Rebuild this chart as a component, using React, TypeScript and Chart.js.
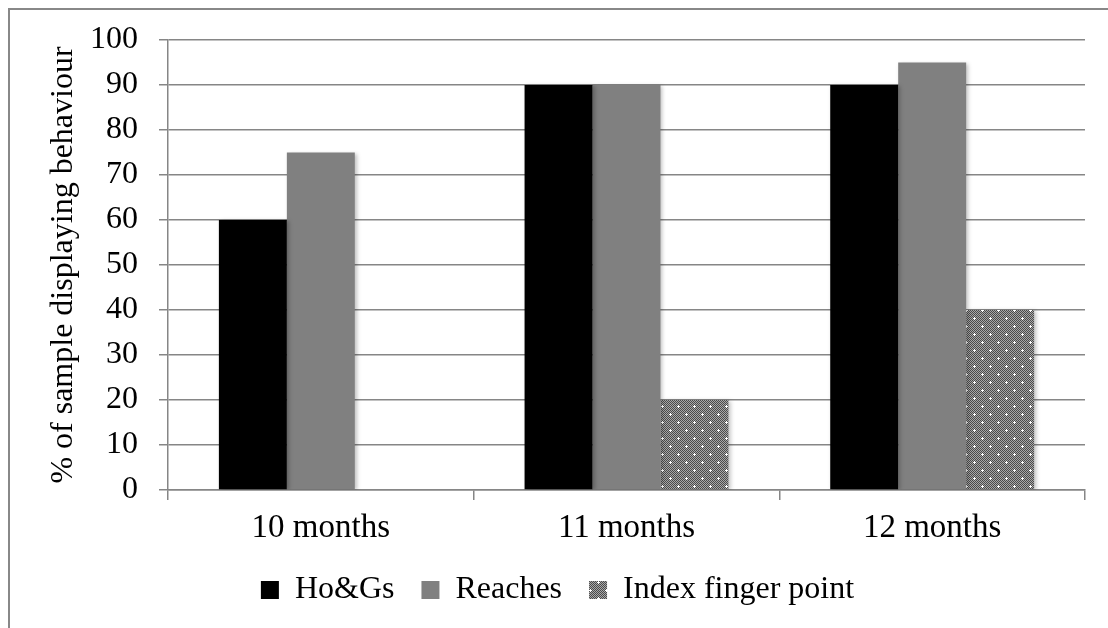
import React, { useEffect, useRef } from "react";
import { Chart, registerables } from "chart.js";

Chart.register(...registerables);

const categories = ["10 months", "11 months", "12 months"];
const seriesNames = ["Ho&Gs", "Reaches", "Index finger point"];
const hoGs = [60, 90, 90];
const reaches = [75, 90, 95];
const indexFinger = [0, 20, 40];
const yTitle = "% of sample displaying behaviour";

const FONT = "'Liberation Serif', 'Times New Roman', serif";

function makePattern(): CanvasPattern | string {
  const c = document.createElement("canvas");
  c.width = 16;
  c.height = 16;
  const g = c.getContext("2d");
  if (!g) return "#777";
  for (let y = 0; y < 16; y++) {
    for (let x = 0; x < 16; x++) {
      g.fillStyle = (x + y) % 2 === 0 ? "#4a4a4a" : "#a8a8a8";
      g.fillRect(x, y, 1, 1);
    }
  }
  g.fillStyle = "#ffffff";
  const dot = (cx: number, cy: number) => {
    g.fillRect(cx - 1, cy, 3, 1);
    g.fillRect(cx, cy - 1, 1, 3);
  };
  dot(4, 4);
  dot(12, 12);
  const p = g.createPattern(c, "repeat");
  return p || "#777";
}

const shadowPlugin = {
  id: "barShadow",
  beforeDatasetsDraw(chart: any) {
    const ctx = chart.ctx;
    ctx.save();
    ctx.shadowColor = "rgba(0,0,0,0.25)";
    ctx.shadowBlur = 4;
    ctx.shadowOffsetX = 2;
    ctx.shadowOffsetY = 1;
  },
  afterDatasetsDraw(chart: any) {
    chart.ctx.restore();
  },
};

export default function App() {
  const ref = useRef<HTMLCanvasElement | null>(null);
  useEffect(() => {
    if (!ref.current) return;
    const pattern = makePattern();
    Chart.defaults.color = "#000";
    const chart = new Chart(ref.current, {
      type: "bar",
      data: {
        labels: categories,
        datasets: [
          { label: seriesNames[0], data: hoGs, backgroundColor: "#000000" },
          { label: seriesNames[1], data: reaches, backgroundColor: "#808080" },
          { label: seriesNames[2], data: indexFinger, backgroundColor: pattern as any },
        ],
      },
      options: {
        animation: false,
        responsive: false,
        maintainAspectRatio: false,
        layout: { padding: { left: 20, right: 23, top: 30, bottom: 0 } },
        datasets: {
          bar: { categoryPercentage: 0.667, barPercentage: 1 },
        } as any,
        plugins: {
          tooltip: { enabled: false },
          legend: {
            position: "bottom",
            labels: {
              boxWidth: 18,
              boxHeight: 18,
              padding: 27,
              color: "#000",
              font: { family: FONT, size: 32 },
            },
          },
        },
        scales: {
          x: {
            afterFit: (s: any) => {
              s.height = 57;
            },
            grid: {
              display: true,
              drawOnChartArea: false,
              drawTicks: true,
              tickLength: 10,
              color: "#868686",
              lineWidth: 1.5,
              offset: true,
            },
            border: { color: "#868686", width: 1.5 },
            ticks: { color: "#000", font: { family: FONT, size: 33 }, padding: 9 },
          },
          y: {
            min: 0,
            max: 100,
            afterFit: (s: any) => {
              s.width = 138;
              s.paddingTop = 0;
              s.paddingBottom = 0;
            },
            ticks: {
              stepSize: 10,
              color: "#000",
              font: { family: FONT, size: 32 },
              padding: 21,
            },
            grid: { color: "#868686", lineWidth: 1.5, tickLength: 9 },
            border: { color: "#868686", width: 1.5 },
            title: {
              display: true,
              text: yTitle,
              color: "#000",
              font: { family: FONT, size: 32 },
              padding: { top: 14, bottom: 0 },
            },
          },
        },
      },
      plugins: [shadowPlugin],
    });
    return () => chart.destroy();
  }, []);
  return (
    <div
      style={{
        position: "absolute",
        left: 8,
        top: 8,
        borderLeft: "2px solid #888",
        borderTop: "2px solid #888",
        width: 1098,
        height: 628,
        background: "#fff",
      }}
    >
      <canvas ref={ref} width={1098} height={606} style={{ display: "block" }} />
    </div>
  );
}
